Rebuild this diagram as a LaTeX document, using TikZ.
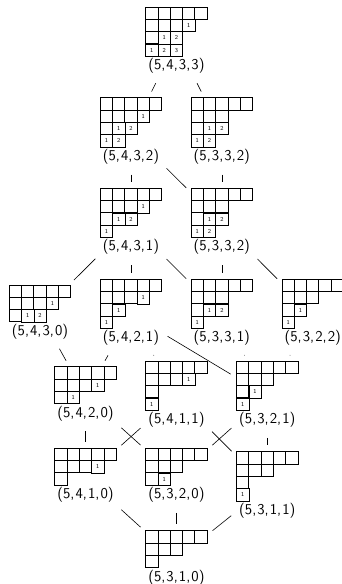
\documentclass[tikz,border=0pt]{standalone}
\usetikzlibrary{fit}
\def\csz{12.3}
\tikzset{
  thincell/.style={line width=0.45pt},
  thickcell/.style={line width=0.9pt},
  numtxt/.style={inner sep=0pt, font=\sffamily\fontsize{6}{7}\selectfont},
  lab/.style={inner sep=0pt, font=\sffamily\fontsize{15}{17}\selectfont},
  edge/.style={line width=0.6pt, shorten <=6.6pt, shorten >=6.6pt}
}
\def\cm{,\kern0.07em}
% numbered cells: #1 x, #2 y, #3 list row/col/value
\newcommand\ytcells[3]{%
  \begin{scope}[shift={(#1,#2)}]
    \foreach \rr/\cc/\vv in {#3} {
      \draw[thincell] ({(\cc-1)*\csz},{(\rr-1)*\csz}) rectangle ++(\csz,\csz);
      \node[numtxt] at ({(\cc-0.5)*\csz},{(\rr-0.5)*\csz}) {\vv};
    }
  \end{scope}}
% blank shape (5,3,1) and label: #1 name, #2 x, #3 y, #4 rows, #5 label
\newcommand\ytshape[5]{%
  \begin{scope}[shift={(#2,#3)}]
    \foreach \len [count=\rr] in {5,3,1} {
      \foreach \cc in {1,...,\len} {
        \draw[thickcell] ({(\cc-1)*\csz},{(\rr-1)*\csz}) rectangle ++(\csz,\csz);
      }
    }
    \coordinate (#1-tl) at (0,0);
    \coordinate (#1-br) at ({5*\csz},{#4*\csz});
    \node[lab, anchor=north] (#1-lab) at ({2.5*\csz},{#4*\csz+2}) {#5};
    \coordinate (#1-bot) at ([yshift=-3.5pt]#1-lab.south);
  \end{scope}
  \node[fit=(#1-tl)(#1-br)(#1-lab)(#1-bot), inner sep=0pt] (#1) {};}
\begin{document}
\begin{tikzpicture}[x=1pt,y=-1pt]
\useasboundingbox (0,0) rectangle (342,584);
% A (5,4,3,3)
\ytcells{145.65}{7}{2/4/1,3/2/1,3/3/2,4/1/1,4/2/2,4/3/3}
\ytshape{A}{145.65}{7}{4}{(5\cm4\cm3\cm3)}
% B (5,4,3,2)
\ytcells{100.2}{97.7}{2/4/1,3/2/1,3/3/2,4/1/1,4/2/2}
\ytshape{B}{100.2}{97.7}{4}{(5\cm4\cm3\cm2)}
% C (5,3,3,2)
\ytcells{191.1}{97.7}{3/2/1,3/3/2,4/1/1,4/2/2}
\ytshape{C}{191.1}{97.7}{4}{(5\cm3\cm3\cm2)}
% D (5,4,3,1)
\ytcells{100.2}{188.3}{2/4/1,3/2/1,3/3/2,4/1/1}
\ytshape{D}{100.2}{188.3}{4}{(5\cm4\cm3\cm1)}
% E (5,3,3,2)
\ytcells{191.1}{188.3}{3/2/1,3/3/2,4/1/1,4/2/2}
\ytshape{E}{191.1}{188.3}{4}{(5\cm3\cm3\cm2)}
% F (5,4,3,0)
\ytcells{9.3}{285}{2/4/1,3/2/1,3/3/2}
\ytshape{F}{9.3}{285}{3}{(5\cm4\cm3\cm0)}
% G (5,4,2,1)
\ytcells{100.2}{279.3}{2/4/1,3/2/1,4/1/1}
\ytshape{G}{100.2}{279.3}{4}{(5\cm4\cm2\cm1)}
% H (5,3,3,1)
\ytcells{191.1}{279.3}{3/2/1,3/3/2,4/1/1}
\ytshape{H}{191.1}{279.3}{4}{(5\cm3\cm3\cm1)}
% I (5,3,2,2)
\ytcells{282}{279.3}{3/2/1,4/1/1}
\ytshape{I}{282}{279.3}{4}{(5\cm3\cm2\cm2)}
% J (5,4,2,0)
\ytcells{54.75}{366.7}{2/4/1,3/2/1}
\ytshape{J}{54.75}{366.7}{3}{(5\cm4\cm2\cm0)}
% K (5,4,1,1)
\ytcells{145.65}{361}{2/4/1,4/1/1}
\ytshape{K}{145.65}{361}{4}{(5\cm4\cm1\cm1)}
% L (5,3,2,1)
\ytcells{236.55}{361}{3/2/1,4/1/1}
\ytshape{L}{236.55}{361}{4}{(5\cm3\cm2\cm1)}
% M (5,4,1,0)
\ytcells{54.75}{448.3}{2/4/1}
\ytshape{M}{54.75}{448.3}{3}{(5\cm4\cm1\cm0)}
% N (5,3,2,0)
\ytcells{145.65}{448.3}{3/2/1}
\ytshape{N}{145.65}{448.3}{3}{(5\cm3\cm2\cm0)}
% O (5,3,1,1)
\ytcells{236.55}{451.7}{4/1/1}
\ytshape{O}{236.55}{451.7}{4}{(5\cm3\cm1\cm1)}
% P (5,3,1,0)
\ytshape{P}{145.65}{530.7}{3}{(5\cm3\cm1\cm0)}
% edges
\foreach \s/\t in {A/B,A/C,B/D,B/E,C/E,D/F,D/G,D/H,E/H,E/I,F/J,G/J,G/K,G/L,H/L,I/L,J/M,J/N,K/M,K/O,L/N,L/O,M/P,N/P,O/P}
  \draw[edge] (\s) -- (\t);
\end{tikzpicture}
\end{document}
